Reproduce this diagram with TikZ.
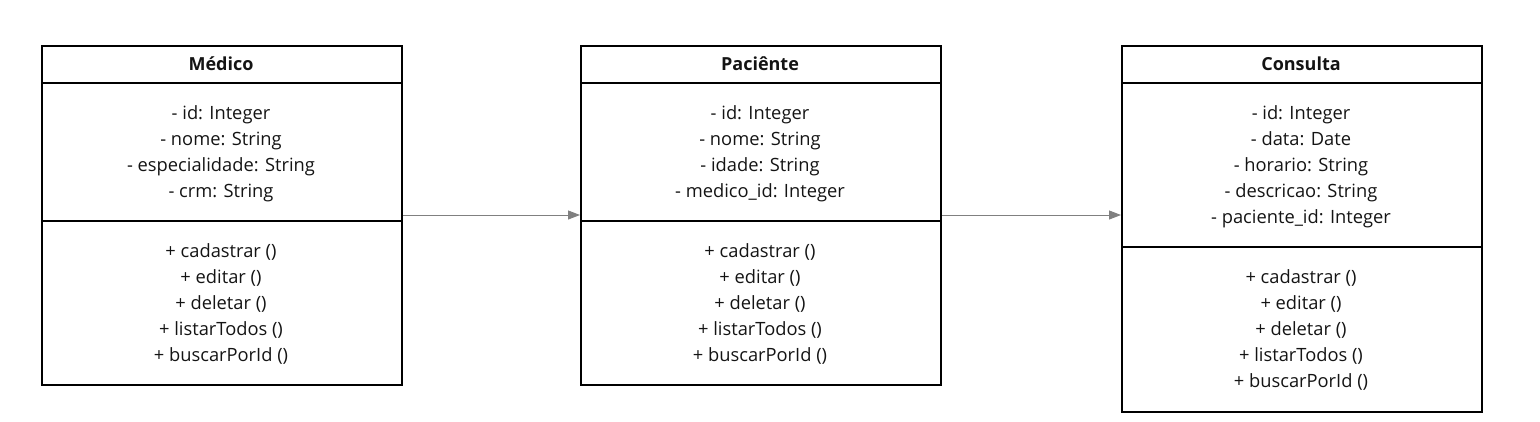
\documentclass[tikz,border=0pt]{standalone}
\usepackage{fontspec}
\setmainfont{Open Sans}
\usetikzlibrary{arrows.meta}
\definecolor{conn}{RGB}{128,128,128}
\definecolor{ink}{RGB}{20,20,20}
\tikzset{
  classbox/.style={draw=black, line width=2pt, minimum width=360pt, inner sep=0pt, anchor=north west},
  divider/.style={draw=black, line width=2pt},
  title/.style={font=\fontsize{18}{20}\selectfont\bfseries, text=ink, inner sep=0pt},
  members/.style={font=\fontsize{18.3}{26}\selectfont, text=ink, align=center, inner sep=0pt},
  conn/.style={draw=conn, line width=1pt, -{Triangle[length=12pt,width=9pt]}}
}
\begin{document}
\begin{tikzpicture}[x=1pt,y=1pt]
\useasboundingbox (0,0) rectangle (1540,-421);
% boxes
\node[classbox, minimum height=339pt] (med) at (41,-44.5) {};
\node[classbox, minimum height=339pt] (pac) at (580,-44.5) {};
\node[classbox, minimum height=366pt] (con) at (1121,-44.5) {};
% dividers
\draw[divider] (med.west |- 0,-83) -- (med.east |- 0,-83);
\draw[divider] (med.west |- 0,-220.5) -- (med.east |- 0,-220.5);
\draw[divider] (pac.west |- 0,-83) -- (pac.east |- 0,-83);
\draw[divider] (pac.west |- 0,-220.5) -- (pac.east |- 0,-220.5);
\draw[divider] (con.west |- 0,-83) -- (con.east |- 0,-83);
\draw[divider] (con.west |- 0,-246.5) -- (con.east |- 0,-246.5);
% titles
\node[title] (medt) at (221,-64) {Médico};
\node[title] (pact) at (760,-64) {Paciênte};
\node[title] (cont) at (1301,-64) {Consulta};
% attributes
\node[members] (meda) at (221,-153.5) {- id: Integer\\- nome: String\\- especialidade: String\\- crm: String};
\node[members] (paca) at (760,-153.5) {- id: Integer\\- nome: String\\- idade: String\\- medico\_id: Integer};
\node[members] (cona) at (1301,-166.5) {- id: Integer\\- data: Date\\- horario: String\\- descricao: String\\- paciente\_id: Integer};
% methods
\node[members] (medm) at (221,-303.5) {+ cadastrar ()\\+ editar ()\\+ deletar ()\\+ listarTodos ()\\+ buscarPorId ()};
\node[members] (pacm) at (760,-303.5) {+ cadastrar ()\\+ editar ()\\+ deletar ()\\+ listarTodos ()\\+ buscarPorId ()};
\node[members] (conm) at (1301,-329.5) {+ cadastrar ()\\+ editar ()\\+ deletar ()\\+ listarTodos ()\\+ buscarPorId ()};
% connectors
\draw[conn] (med.east) -- (pac.west);
\draw[conn] (pac.east) -- (pac.east -| con.west);
\end{tikzpicture}
\end{document}
